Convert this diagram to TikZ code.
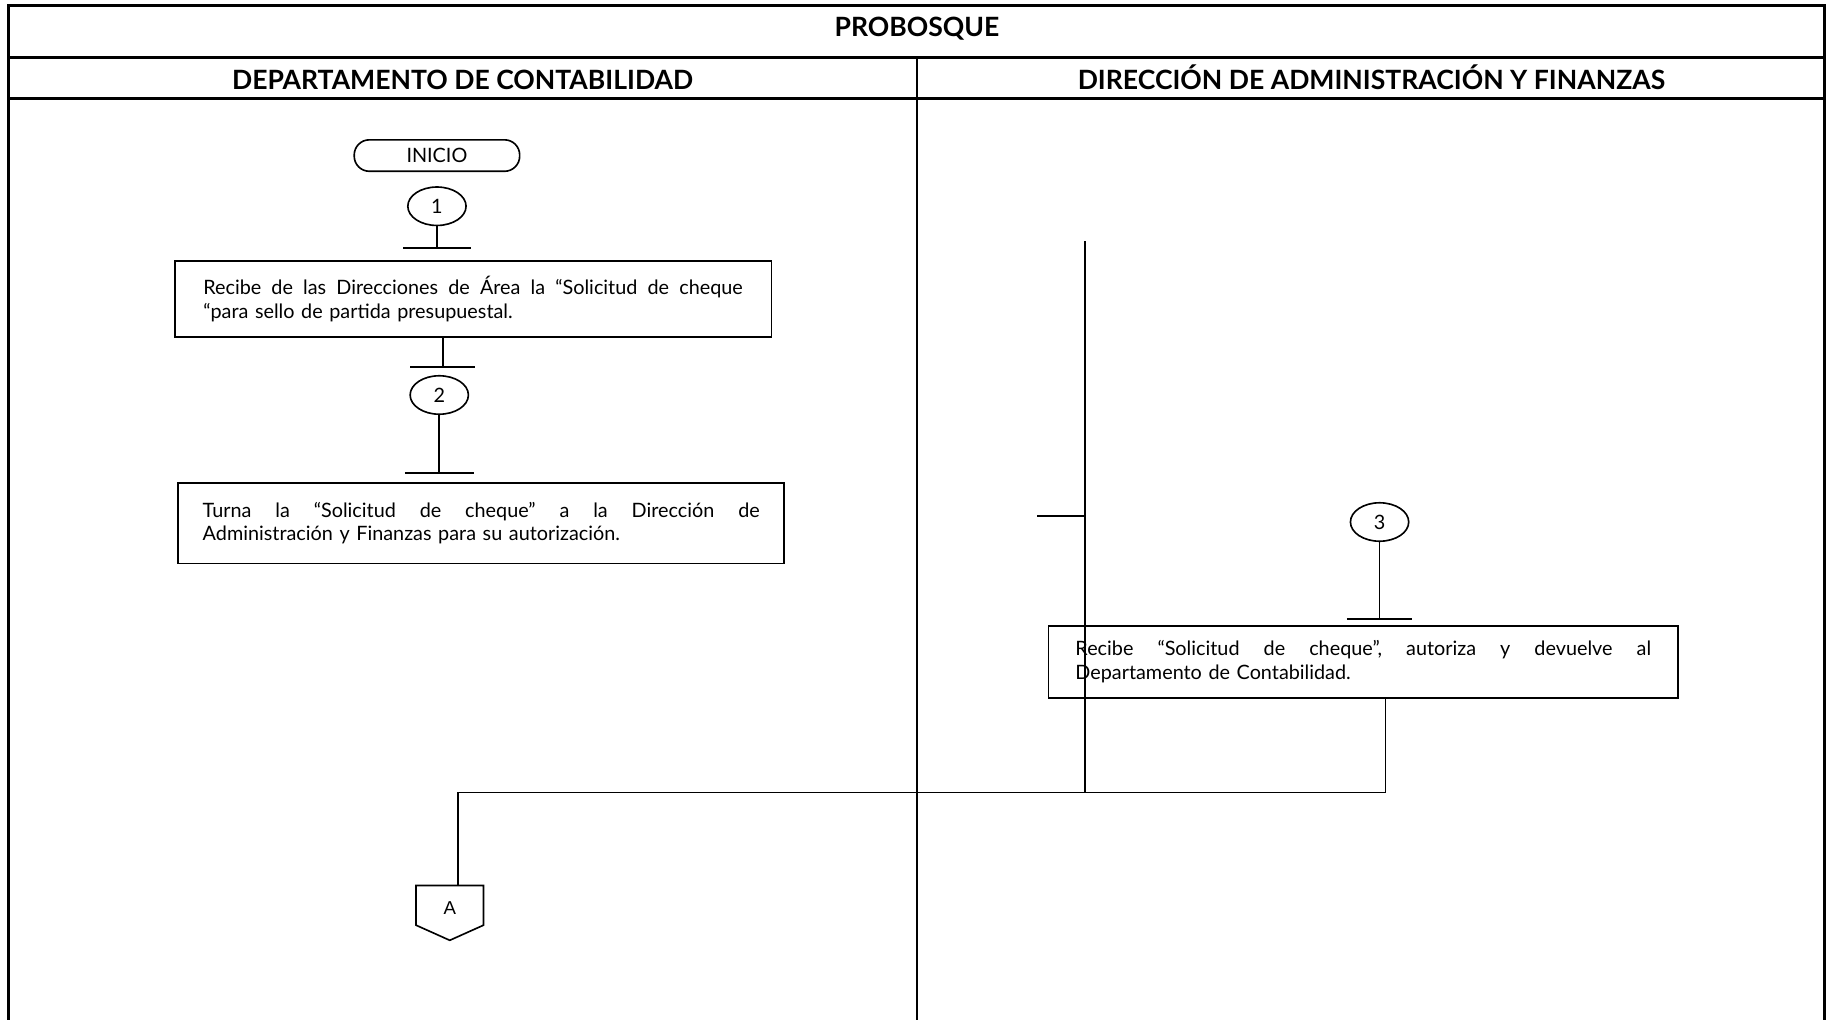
\documentclass[tikz,border=0pt]{standalone}
\usepackage{fontspec}
\setmainfont{Lato}
\newfontfamily\arialfont{Liberation Sans}
\usetikzlibrary{shapes.geometric}
\newcommand{\fullline}[2]{\makebox[#1][l]{#2}}
\tikzset{
  frameline/.style={line width=2.4pt},
  divline/.style={line width=2pt},
  flow/.style={line width=1.4pt},
  hdr/.style={font=\fontsize{22.8}{27}\selectfont\bfseries, anchor=base},
  body/.style={font=\fontsize{17}{20.5}\selectfont},
  termbox/.style={draw, line width=1.4pt, rounded corners=13pt, minimum width=142pt, minimum height=27pt, inner sep=0pt, body},
  conn/.style={draw, ellipse, line width=1.4pt, minimum width=50pt, minimum height=33pt, inner sep=0pt, body},
  actbox/.style={draw, line width=1.4pt, align=left, inner ysep=0pt, body},
}
\begin{document}
\begin{tikzpicture}[x=1pt,y=-1pt]
\useasboundingbox (0,0) rectangle (1568,875);
% frame
\draw[frameline] (7,875) -- (7,4.5) -- (1566,4.5) -- (1566,875);
\draw[frameline] (7,49.5) -- (1566,49.5);
\draw[frameline] (7,84.5) -- (1566,84.5);
\draw[divline] (787,49.5) -- (787,875);
\node[hdr] (title) at (787,31.5) {PROBOSQUE};
\node[hdr] (h1) at (397,76.5) {DEPARTAMENTO DE CONTABILIDAD};
\node[hdr] (h2) at (1177,76.5) {DIRECCIÓN DE ADMINISTRACIÓN Y FINANZAS};

% left column
\node[termbox] (inicio) at (375,133.5) {INICIO};
\node[conn] (c1) at (375,177) {1};
\node[actbox, text width=463pt, minimum width=512pt, minimum height=65pt] (b1) at (406,256.5)
  {\fullline{463pt}{Recibe\hfill de\hfill las\hfill Direcciones\hfill de\hfill Área\hfill la\hfill “Solicitud\hfill de\hfill cheque}\\“para sello de partida presupuestal.};
\node[conn] (c2) at (377,339) {2};
\node[actbox, text width=478pt, minimum width=520pt, minimum height=69pt] (b2) at (413,449)
  {\fullline{478pt}{Turna\hfill la\hfill “Solicitud\hfill de\hfill cheque”\hfill a\hfill la\hfill Dirección\hfill de}\\Administración y Finanzas para su autorización.};

% right column
\node[conn] (c3) at (1184,448) {3};
\node[actbox, text width=494pt, minimum width=540pt, minimum height=62pt] (b3) at (1170,568)
  {\fullline{494pt}{Recibe\hfill “Solicitud\hfill de\hfill cheque”,\hfill autoriza\hfill y\hfill devuelve\hfill al}\\Departamento de Contabilidad.};

% off-page connector A
\node[font=\arialfont\fontsize{16}{18}\selectfont] (A) at (386,779) {A};
\coordinate (Atop) at (393,760);
\draw[flow] (357,760) -- (415,760) -- (415,794) -- (386,807) -- (357,794) -- cycle;

% connectors
\draw[flow] (c1.south) -- (375,213) coordinate (t1);
\draw[flow] ([xshift=-29pt]t1) -- ([xshift=29pt]t1);
\draw[flow] (b1.south -| 380,0) -- (380,315) coordinate (t2);
\draw[flow] ([xshift=-28pt]t2) -- ([xshift=28pt]t2);
\draw[flow] (c2.south) -- (377,406) coordinate (t3);
\draw[flow] ([xshift=-29.5pt]t3) -- ([xshift=29.5pt]t3);
\coordinate (v1) at (931,207);
\coordinate (v2) at (931,680);
\draw[flow] (v1) -- (v2);
\coordinate (tick) at (890,443);
\draw[flow] (tick) -- (tick -| v1);
\draw[flow] (c3.south) -- (1184,531) coordinate (t4);
\draw[flow] ([xshift=-28pt]t4) -- ([xshift=28pt]t4);
\draw[flow] (b3.south -| 1189,0) -- (1189,680) -- (393,680) -- (Atop);
\end{tikzpicture}
\end{document}
